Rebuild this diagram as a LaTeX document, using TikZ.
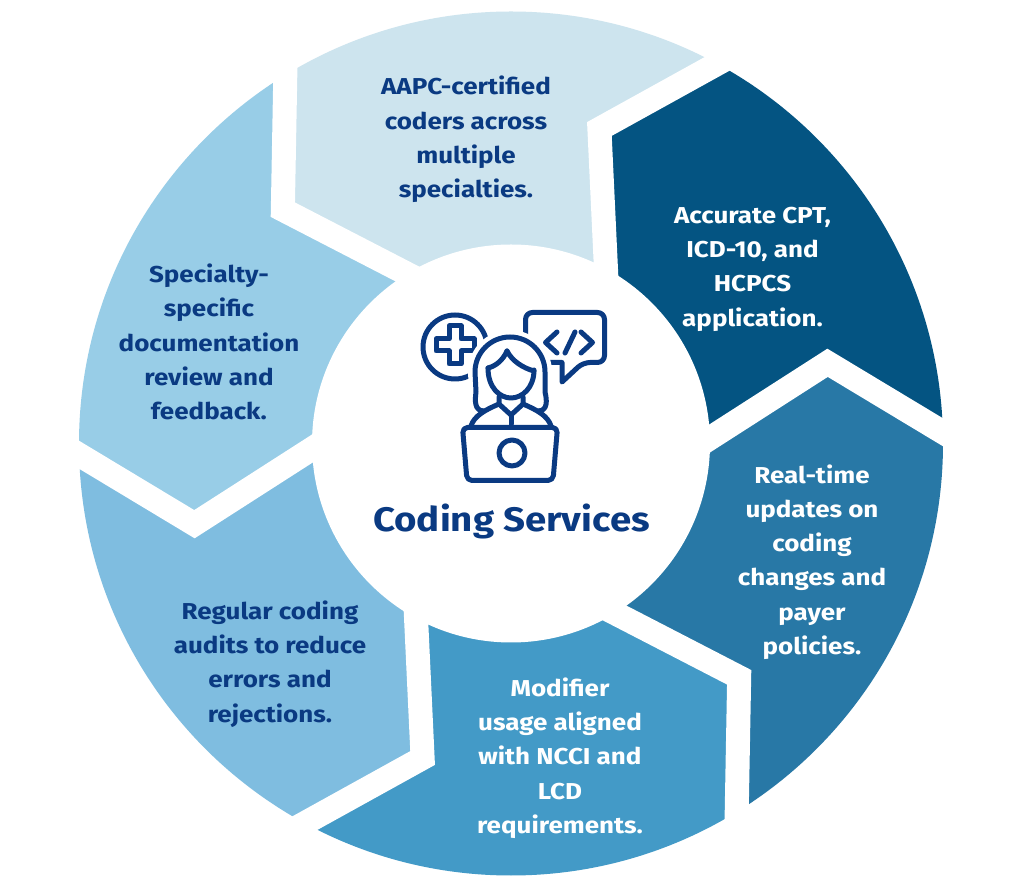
\documentclass[tikz,border=0pt]{standalone}
\usepackage{fontspec}
\setmainfont{Fira Sans}[FakeStretch=1.13]
\usetikzlibrary{calc}
\definecolor{navy}{HTML}{0A3A82}
\definecolor{cA}{HTML}{045482}
\definecolor{cB}{HTML}{CDE4EE}
\definecolor{cC}{HTML}{98CDE7}
\definecolor{cD}{HTML}{7FBDE0}
\definecolor{cE}{HTML}{439AC7}
\definecolor{cF}{HTML}{2878A6}
\tikzset{
  gap/.style={draw=white, line width=24, line join=miter},
  lab/.style={align=center, inner sep=0pt, font=\fontsize{23}{34.3}\selectfont\bfseries},
  ic/.style={draw=navy, line width=5, line join=round, line cap=round},
  mask/.style={fill=white, draw=white, line width=14, line join=round}
}
\begin{document}
\begin{tikzpicture}[x=1pt,y=1pt]
\useasboundingbox (0,0) rectangle (1022,886);
\fill[white] (0,0) rectangle (1022,886);
\coordinate (c) at (511,442.5);
\foreach \k in {0,...,5} {
  \pgfmathsetmacro\ph{1.5+60*\k}
  \coordinate (A\k) at ($(c)+({\ph+12.8}:326.7)$);
  \coordinate (I\k) at ($(c)+({\ph}:199)$);
  \coordinate (O\k) at ($(c)+({\ph}:432)$);
  \coordinate (Ie\k) at ($(A\k)!1.3!(I\k)$);
  \coordinate (Oe\k) at ($(A\k)!1.3!(O\k)$);
  \coordinate (F\k) at ($(c)+({\ph+30}:800)$);
}
\begin{scope}
  \clip (c) circle (432);
  \foreach \k/\n/\col in {0/1/cA,1/2/cB,2/3/cC,3/4/cD,4/5/cE,5/0/cF}
    \fill[\col] (Ie\k) -- (A\k) -- (Oe\k) -- (F\k) -- (Oe\n) -- (A\n) -- (Ie\n) -- (c) -- cycle;
\end{scope}
\foreach \k in {0,...,5}
  \draw[gap] (Ie\k) -- (A\k) -- (Oe\k);
\fill[white] (c) circle (199);

% labels
\node[lab, text=navy] (t1) at (466,746.5) {AAPC-certified\\coders across\\multiple\\specialties.};
\node[lab, text=white] (t2) at (752.5,617) {Accurate CPT,\\ICD-10, and\\HCPCS\\application.};
\node[lab, text=white] (t3) at (812,324) {Real-time\\updates on\\coding\\changes and\\payer\\policies.};
\node[lab, text=white] (t4) at (560,128) {Modifier\\usage aligned\\with NCCI and\\LCD\\requirements.};
\node[lab, text=navy] (t5) at (270,222) {Regular coding\\audits to reduce\\errors and\\rejections.};
\node[lab, text=navy] (t6) at (209,544) {Specialty-\\specific\\documentation\\review and\\feedback.};
\node[anchor=base, inner sep=0pt, text=navy, font=\fontsize{34}{40}\selectfont\bfseries] (title) at (511.5,354) {Coding Services};

% icon (screen coordinates)
\begin{scope}[shift={(0,886)}, y=-1pt]
  \draw[ic] (455,347) circle (32);
  \draw[ic] (449,326) -- (461,326) -- (461,339) -- (474,339) -- (474,351) -- (461,351) -- (461,364) -- (449,364) -- (449,351) -- (436,351) -- (436,339) -- (449,339) -- cycle;
  \draw[ic, rounded corners=7] (562,362.5) -- (525.5,362.5) -- (525.5,312.5) -- (604.5,312.5) -- (604.5,362.5) -- (583,362.5) [sharp corners] -- (562,382) -- (562,362.5);
  \draw[ic] (557,332) -- (545.5,342.5) -- (557,353);
  \draw[ic] (565,353) -- (575,332);
  \draw[ic] (581,332) -- (592.5,342.5) -- (581,353);
  % mask behind head
  \path[mask] (482,412) .. controls (474,410) and (475,400) .. (476,392) -- (475,372) arc[start angle=180, end angle=360, radius=35] -- (545,392) .. controls (546,400) and (546,410) .. (538,412) -- cycle;
  \path[mask] (471,426) .. controls (474,416) and (485,410) .. (499,404) -- (523,404) .. controls (537,410) and (548,416) .. (551,426) -- cycle;
  % hair
  \draw[ic] (484,411) .. controls (474,411) and (475,400) .. (476,392) -- (475,372) arc[start angle=180, end angle=360, radius=35] -- (545,392) .. controls (547,400) and (548,411) .. (538,411);
  % face
  \draw[ic] (488,368) .. controls (488,388) and (500,398) .. (511,398) .. controls (522,398) and (534,388) .. (534,370);
  \draw[ic] (507,351) .. controls (503,360) and (496,366) .. (488,368);
  \draw[ic] (507,351) .. controls (512,361) and (523,368) .. (534,371);
  % neck and collar
  \draw[ic] (499,397) -- (499,404) -- (511,415) -- (523,404) -- (523,397);
  \draw[ic] (511,415) -- (511,424);
  % shoulders
  \draw[ic] (471,426) .. controls (474,416) and (485,410) .. (499,404);
  \draw[ic] (523,404) .. controls (537,410) and (548,416) .. (551,426);
  % laptop
  \filldraw[ic, fill=white, rounded corners=5] (462.5,427.5) -- (557.5,427.5) -- (553,480.5) -- (467,480.5) -- cycle;
  \draw[ic] (512,453) circle (13);
\end{scope}
\end{tikzpicture}
\end{document}
